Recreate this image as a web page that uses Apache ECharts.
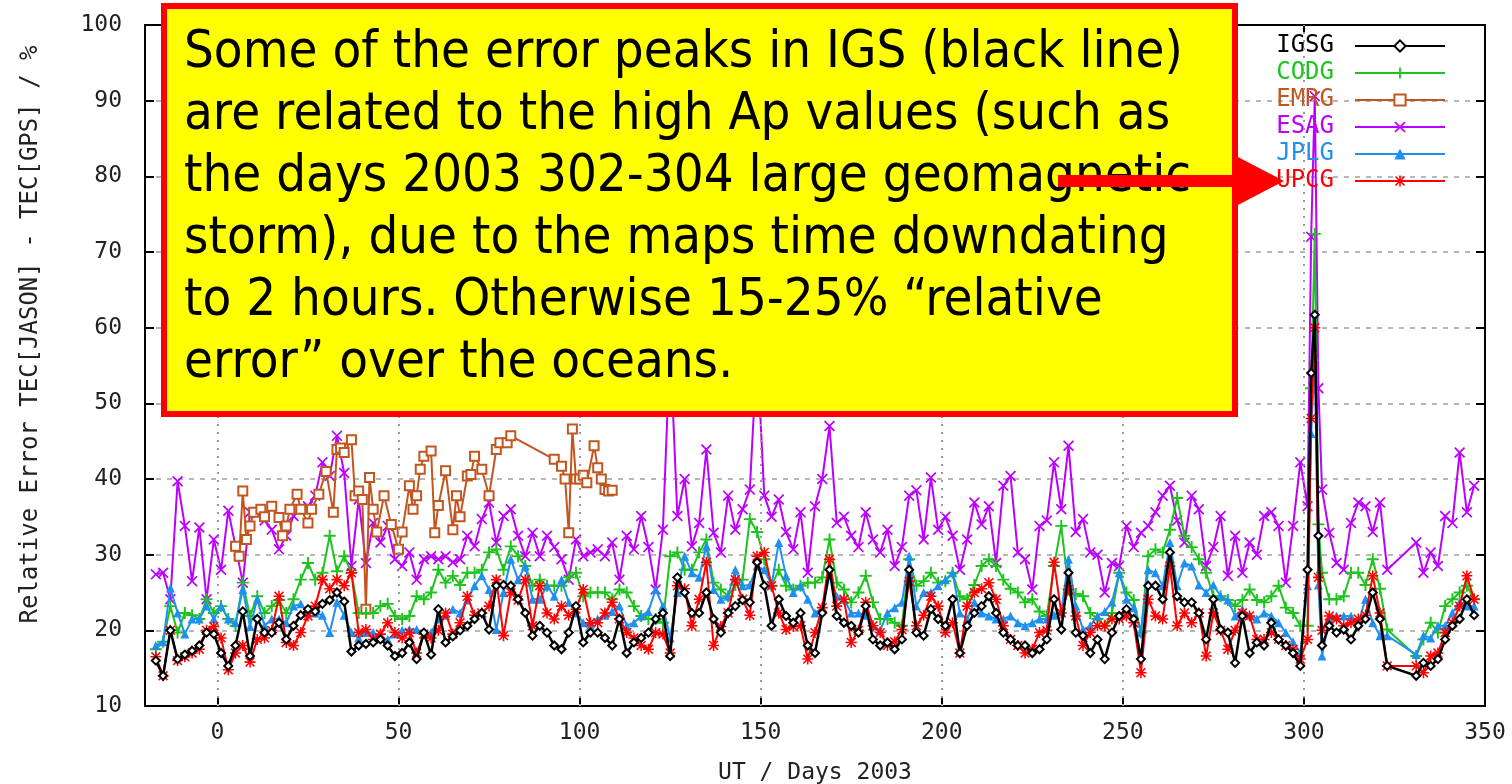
<!DOCTYPE html>
<html><head><meta charset="utf-8">
<script src="https://cdn.jsdelivr.net/npm/echarts@6/dist/echarts.min.js"></script>
<style>html,body{margin:0;padding:0;background:#fff;}#c{width:1512px;height:784px;}</style>
</head><body><div id="c"></div>
<script>
// ---- data ----
const days = [-17,-15,-13,-11,-9,-7,-5,-3,-1,1,
3,5,7,9,11,13,15,17,19,21,
23,25,27,29,31,33,35,37,39,41,
43,45,47,49,51,53,55,57,59,61,
63,65,67,69,71,73,75,77,79,81,
83,85,87,89,91,93,95,97,99,101,
103,105,107,109,111,113,115,117,119,121,
123,125,127,129,131,133,135,137,139,141,
143,145,147,149,151,153,155,157,159,161,
163,165,167,169,171,173,175,177,179,181,
183,185,187,189,191,193,195,197,199,201,
203,205,207,209,211,213,215,217,219,221,
223,225,227,229,231,233,235,237,239,241,
243,245,247,249,251,253,255,257,259,261,
263,265,267,269,271,273,275,277,279,281,
283,285,287,289,291,293,295,297,299,301,
302,303,304,305,307,309,311,313,315,317,
319,321,323,331,333,335,337,339,341,343,
345,347];

const igsg = [16.0,14.0,20.0,16.2,16.8,17.3,18.0,19.7,19.5,17.0,
15.3,18.0,22.5,16.6,21.5,19.7,19.7,21.0,18.8,20.6,
22.0,22.8,22.5,23.5,24.0,25.0,23.8,17.2,18.0,18.2,
18.4,18.8,18.0,16.6,17.0,18.4,16.2,19.7,16.8,22.8,
18.4,19.2,20.0,20.6,21.5,22.3,20.1,25.9,26.0,25.9,
24.1,22.3,19.3,20.6,19.7,18.0,17.5,19.7,23.2,18.4,
19.7,19.7,19.0,18.0,21.5,17.0,18.4,19.0,19.7,21.5,
22.3,16.6,27.0,25.0,22.3,22.3,25.0,21.5,19.7,22.3,
23.2,24.0,23.7,29.0,25.9,20.6,24.1,21.9,21.0,22.3,
18.0,17.0,22.3,28.0,21.9,21.0,20.6,19.7,23.2,18.8,
18.0,18.4,17.5,18.8,28.0,19.7,19.3,22.8,21.5,20.6,
24.1,17.0,20.6,22.3,23.2,24.5,22.3,19.7,18.8,18.0,
18.0,17.0,17.5,18.8,24.1,20.1,27.6,19.7,19.3,17.0,
18.8,16.2,19.7,21.9,22.8,21.5,16.2,25.9,25.9,24.1,
30.3,24.5,23.7,23.7,22.3,18.8,24.1,20.1,19.7,15.7,
21.9,17.0,18.4,18.0,21.0,18.8,18.0,17.0,15.3,28.0,
54.0,61.7,32.5,18.0,20.6,19.7,20.1,18.8,20.6,21.5,
25.0,21.5,15.3,14.0,15.7,15.3,16.2,18.8,20.6,21.5,
24.1,22.0];

const codg = [17.5,18.5,23.2,19.7,22.3,22.0,21.5,24.1,22.3,23.2,
21.5,20.6,26.3,21.9,24.5,22.3,23.2,24.0,22.3,24.1,
26.7,28.9,26.7,27.6,32.5,27.8,29.8,27.6,22.3,22.3,
22.3,23.2,23.5,21.9,21.5,21.9,24.5,24.1,25.0,28.0,
26.3,27.2,26.0,27.6,27.6,28.0,30.3,30.7,28.0,31.1,
29.8,28.5,25.9,26.7,25.9,25.9,25.9,27.0,27.6,24.5,
25.0,25.0,25.0,24.1,25.4,25.0,23.2,21.9,21.5,21.5,
21.0,29.8,30.3,28.0,28.0,30.3,32.0,26.3,25.4,24.5,
26.0,26.7,34.7,33.0,29.4,25.9,28.0,25.9,25.4,25.9,
26.3,26.3,27.0,32.0,26.3,25.4,23.7,25.0,27.2,23.7,
21.5,21.5,21.0,20.6,29.4,25.9,26.5,27.6,26.3,26.5,
27.6,24.5,24.1,26.0,28.5,29.4,28.5,26.7,25.5,25.0,
23.7,24.1,22.5,21.9,28.5,33.8,25.4,24.8,24.5,22.3,
21.5,20.6,22.3,27.6,25.0,24.0,19.7,29.8,30.7,30.3,
33.3,37.5,32.5,31.0,29.4,27.6,24.5,24.5,24.0,23.2,
24.0,25.4,24.0,23.7,24.5,25.9,23.0,22.3,20.6,20.6,
52.0,72.4,34.0,27.6,24.1,24.1,24.5,27.6,27.6,26.0,
29.4,25.5,20.1,16.6,18.8,21.0,19.7,23.2,24.1,25.0,
25.9,24.1];

const esag = [27.4,27.6,24.1,39.7,33.8,26.5,33.6,24.1,32.0,28.0,
35.8,31.1,26.3,35.6,35.6,34.5,33.3,30.7,32.5,35.1,
36.0,36.4,37.8,42.2,40.4,45.7,40.8,28.5,37.3,28.9,
34.2,31.6,33.8,29.4,28.5,30.3,26.7,29.4,29.8,29.4,
29.8,29.0,29.4,32.5,31.1,34.7,36.9,31.6,35.1,36.0,
32.5,29.8,32.9,29.8,32.5,31.0,29.4,26.7,32.0,29.8,
30.3,30.7,29.8,31.6,26.7,32.5,30.7,35.1,31.0,25.4,
33.3,58.0,35.1,40.0,31.1,34.2,43.9,32.9,30.3,37.8,
33.3,36.0,38.6,57.0,37.8,35.0,37.3,33.0,30.7,35.6,
27.6,36.4,40.0,47.0,34.2,35.0,32.5,31.0,35.6,32.0,
30.3,33.3,28.5,31.0,37.8,38.5,32.0,40.2,33.3,35.0,
32.5,28.0,32.0,36.9,34.0,36.4,28.9,39.1,40.4,30.3,
29.4,25.4,33.8,34.5,42.2,36.0,44.4,33.0,34.7,30.3,
30.0,25.0,28.9,28.5,33.8,31.0,32.9,33.8,35.6,37.8,
39.1,34.5,31.6,37.8,36.0,28.5,31.0,35.1,27.2,32.5,
27.6,31.6,30.0,35.1,35.6,33.8,26.3,33.8,42.2,36.4,
72.0,90.6,52.0,38.6,32.9,28.9,28.0,34.2,36.9,36.4,
33.0,36.9,28.0,31.6,27.6,30.3,28.5,35.1,34.2,43.5,
35.6,39.1];

const jplg = [18.0,18.5,25.6,22.3,19.5,21.5,21.5,23.2,21.5,23.2,
21.5,21.0,25.4,20.5,24.1,20.6,21.5,21.5,21.0,23.2,
23.5,22.3,22.3,22.0,19.7,23.7,22.0,19.7,19.0,19.7,
19.7,19.0,18.8,19.5,20.0,20.1,20.1,19.5,19.7,21.5,
22.0,22.8,22.3,24.0,25.9,27.2,25.4,20.1,25.0,29.4,
26.7,28.5,24.1,24.1,25.9,24.5,26.7,23.7,22.3,21.0,
20.6,21.5,22.0,22.5,23.2,20.6,21.0,21.9,22.5,25.4,
23.2,19.0,25.0,29.8,27.6,27.0,31.1,25.4,24.1,24.5,
28.0,25.9,26.0,28.5,28.0,26.0,31.6,27.2,25.0,25.9,
24.1,22.3,23.0,27.2,24.5,24.1,22.3,22.3,22.0,20.6,
20.0,22.3,23.0,23.7,29.8,23.2,25.0,25.0,25.9,26.7,
27.6,22.3,21.5,23.7,22.3,21.9,21.5,21.5,21.9,21.0,
20.6,21.0,21.5,21.5,22.0,22.5,29.4,23.2,20.1,20.6,
21.9,22.5,23.7,27.6,24.1,23.0,19.7,28.0,27.6,25.9,
31.6,25.9,28.9,28.5,26.0,25.0,26.0,24.5,24.0,21.9,
22.8,22.0,21.5,22.3,21.9,21.0,19.7,18.5,17.0,25.9,
46.0,56.2,26.0,16.6,21.5,21.9,21.9,21.9,21.0,24.1,
21.0,19.3,19.3,16.8,19.3,19.0,20.6,20.6,22.3,23.7,
23.2,23.2];

const upcg = [16.5,14.0,20.0,16.0,16.5,17.0,17.5,20.0,20.5,19.0,
14.8,17.0,18.0,15.8,18.8,19.0,20.0,24.5,18.4,18.0,
19.7,21.9,23.2,26.7,25.5,26.7,25.9,27.6,19.7,20.1,
18.8,19.5,21.0,19.7,19.0,19.7,17.0,19.5,19.0,20.0,
22.3,19.5,21.0,24.5,22.0,22.3,23.2,26.7,19.3,25.0,
24.0,26.7,20.6,25.9,22.3,21.5,23.2,22.0,22.8,25.4,
21.0,21.0,22.3,23.7,21.5,19.7,19.0,18.0,17.5,19.7,
19.5,17.0,25.9,25.5,20.6,24.1,29.0,18.0,20.5,22.3,
26.7,24.1,22.0,29.8,30.3,25.9,22.3,20.1,20.5,20.6,
16.2,19.7,23.0,29.4,23.2,24.1,18.4,20.0,23.7,20.6,
19.7,18.0,18.5,20.1,26.5,20.6,22.0,24.5,23.2,19.7,
21.0,17.0,23.2,25.0,25.5,26.3,24.1,20.6,18.8,18.0,
17.0,17.5,19.7,20.0,29.0,22.3,25.4,21.9,18.0,19.7,
20.6,20.6,21.5,21.5,21.9,21.0,14.4,24.1,21.9,21.5,
28.5,20.6,22.3,21.0,22.3,16.6,22.3,20.0,17.5,20.0,
22.3,21.9,18.8,18.8,19.7,18.8,18.0,17.5,16.2,18.8,
48.0,60.0,27.0,20.0,21.9,21.5,20.6,21.0,21.5,22.0,
27.2,22.3,15.3,15.3,14.4,16.6,17.0,19.7,21.0,23.2,
27.2,24.1];

const emrgDays = [5,6,7,8,9,10,12,13,15,17,18,19,20,22,23,25,26,28,30,32,33,34,35,37,38,39,40,41,42,43,44,46,48,50,51,53,54,55,56,57,59,60,61,63,65,66,67,69,70,71,73,75,77,78,80,81,93,95,96,97,98,99,100,101,102,104,105,106,107,108,109];
const emrg = [31.1,29.8,38.4,32.0,33.8,35.6,36.0,35.0,36.4,34.9,32.5,33.8,36.0,38.0,36.0,34.2,36.0,38.0,41.0,35.6,43.9,44.1,43.5,45.2,37.8,38.4,37.3,22.8,40.2,36.0,33.0,37.8,34.0,30.7,33.0,39.1,36.0,37.8,41.3,43.0,43.7,32.9,36.5,41.1,33.3,37.8,35.0,40.4,40.6,43.0,41.3,37.8,43.9,44.8,44.8,45.7,42.6,41.7,40.0,32.9,46.6,40.0,40.0,40.5,39.5,44.4,41.5,40.0,38.6,38.4,38.5];

const xTicks = [0,50,100,150,200,250,300,350];
const legendNames = ['IGSG','CODG','EMRG','ESAG','JPLG','UPCG'];
const noteLines = [
  'Some of the error peaks in IGS (black line)',
  'are related to the high Ap values (such as',
  'the days 2003 302-304 large geomagnetic',
  'storm), due to the maps time downdating',
  'to 2 hours. Otherwise 15-25% \u201crelative',
  'error\u201d over the oceans.'
];

// ---- styling ----
const COL = {IGSG:'#000000', CODG:'#1dc41d', EMRG:'#c2561e', ESAG:'#bb00ff', JPLG:'#2090f0', UPCG:'#ff0000'};
const MONO = '"DejaVu Sans Mono","Liberation Mono",monospace';
const PLUS = 'path://M4.2,0H5.8V4.2H10V5.8H5.8V10H4.2V5.8H0V4.2H4.2Z';
const CROSS = 'path://M0,1.1L1.1,0L5,3.9L8.9,0L10,1.1L6.1,5L10,8.9L8.9,10L5,6.1L1.1,10L0,8.9L3.9,5Z';
const STAR = 'path://M4.3,0H5.7V4.3H10V5.7H5.7V10H4.3V5.7H0V4.3H4.3Z M0.5,1.5L1.5,0.5L5,4L8.5,0.5L9.5,1.5L6,5L9.5,8.5L8.5,9.5L5,6L1.5,9.5L0.5,8.5L4,5Z';

function pairs(xs, ys){ return xs.map((x,i)=>[x, ys[i]]); }
function lineSeries(name, xs, ys, symbol, size, z, empty, width){
  const c = COL[name];
  return {
    name, type:'line', data: pairs(xs, ys), z,
    symbol, symbolSize: size, showSymbol: true, showAllSymbol: true,
    lineStyle: {color: c, width: width || 2},
    itemStyle: empty ? {color: c, borderColor: c, borderWidth: 1.5} : {color: c, borderWidth: 0},
    emphasis: {disabled: true}, silent: true, animation: false, clip: true
  };
}

const chart = echarts.init(document.getElementById('c'), null, {renderer:'canvas', width:1512, height:784});

const series = [
  {
    name:'_grid', type:'line', data:[[-30, 0]], symbol:'none', lineStyle:{opacity:0}, z:1, silent:true, animation:false,
    markLine:{
      silent:true, symbol:['none','none'], label:{show:false}, animation:false,
      lineStyle:{type:[2,6], color:'#9a9a9a', width:2},
      emphasis:{disabled:true},
      data: xTicks.filter(v => v > -20 && v < 350).map(v => ({xAxis: v}))
    }
  },
  lineSeries('ESAG', days, esag, CROSS, 11, 2, false, 2),
  lineSeries('EMRG', emrgDays, emrg, 'emptyRect', 9, 3, true, 2),
  lineSeries('CODG', days, codg, PLUS, 12, 4, false, 2),
  lineSeries('JPLG', days, jplg, 'triangle', 9, 5, false, 2),
  lineSeries('UPCG', days, upcg, STAR, 11, 6, false, 2),
  lineSeries('IGSG', days, igsg, 'emptyDiamond', 8, 7, true, 2.5)
];

const graphicEls = [
  {type:'rect', z:100, shape:{x:164, y:6, width:1071, height:408}, style:{fill:'#ffff00', stroke:'#ff0000', lineWidth:6}},
  {type:'rect', z:102, shape:{x:1058, y:175, width:182, height:12}, style:{fill:'#ff0000'}},
  {type:'polygon', z:102, shape:{points:[[1236,156],[1284,181],[1236,206]]}, style:{fill:'#ff0000'}}
];
const noteMid = [53, 115, 177, 239, 301, 363];
noteLines.forEach((t, i) => {
  graphicEls.push({type:'text', z:101, x:184, y:noteMid[i], scaleX:0.905,
    style:{text:t, fill:'#000', fontSize:52, fontFamily:'"DejaVu Sans", Verdana, sans-serif', align:'left', verticalAlign:'middle'}});
});

const option = {
  animation: false,
  backgroundColor: '#ffffff',
  textStyle: {fontFamily: MONO},
  grid: {left:145, top:25, right:27, bottom:78, containLabel:false, outerBoundsMode:'none'},
  legend: {
    orient:'vertical', right:66, top:34, align:'right', padding:0,
    itemWidth:90, itemHeight:14, itemGap:3, selectedMode:false,
    textStyle:{fontFamily:MONO, fontSize:24, padding:[0,16,0,0]},
    data: legendNames.map(n => ({name:n, textStyle:{color:COL[n]}}))
  },
  xAxis: [
    {
      type:'value', position:'bottom', min:-20, max:350,
      axisLine:{show:true, onZero:false, lineStyle:{color:'#000', width:2}},
      axisTick:{show:true, inside:true, length:9, customValues:xTicks, lineStyle:{color:'#000', width:2}},
      axisLabel:{show:true, customValues:xTicks, fontFamily:MONO, fontSize:23, color:'#222', margin:16},
      splitLine:{show:false},
      name:'UT / Days 2003', nameLocation:'middle', nameGap:56,
      nameTextStyle:{fontFamily:MONO, fontSize:23, color:'#222'}
    },
    {
      type:'value', position:'top', min:-20, max:350,
      axisLine:{show:true, onZero:false, lineStyle:{color:'#000', width:2}},
      axisTick:{show:true, inside:true, length:9, customValues:xTicks, lineStyle:{color:'#000', width:2}},
      axisLabel:{show:false}, splitLine:{show:false}
    }
  ],
  yAxis: [
    {
      type:'value', position:'left', min:10, max:100, interval:10,
      axisLine:{show:true, onZero:false, lineStyle:{color:'#000', width:2}},
      axisTick:{show:true, inside:true, length:9, lineStyle:{color:'#000', width:2}},
      axisLabel:{fontFamily:MONO, fontSize:23, color:'#222', margin:23},
      splitLine:{show:true, lineStyle:{type:[5,6], color:'#a0a0a0', width:1.5}},
      name:'Relative Error TEC[JASON] - TEC[GPS] / %', nameLocation:'middle', nameRotate:90, nameGap:102,
      nameTextStyle:{fontFamily:MONO, fontSize:24, color:'#222', padding:[0,0,0,62]}
    },
    {
      type:'value', position:'right', min:10, max:100, interval:10,
      axisLine:{show:true, onZero:false, lineStyle:{color:'#000', width:2}},
      axisTick:{show:true, inside:true, length:9, lineStyle:{color:'#000', width:2}},
      axisLabel:{show:false}, splitLine:{show:false}
    }
  ],
  series: series,
  graphic: {elements: graphicEls}
};
chart.setOption(option);
</script>
</body></html>
